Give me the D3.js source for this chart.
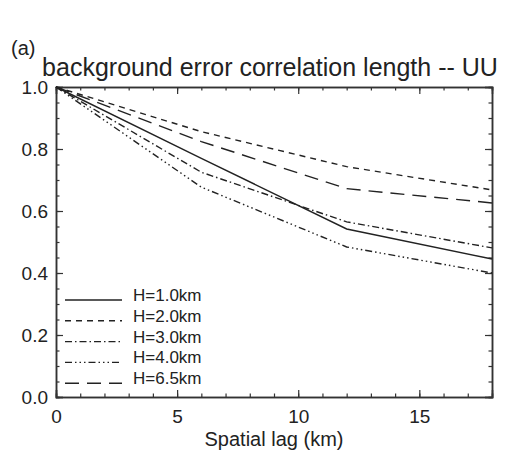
<!DOCTYPE html>
<html>
<head>
<meta charset="utf-8">
<script src="https://cdn.jsdelivr.net/npm/d3@7"></script>
<style>
  body { margin: 0; background: #fff; }
  text { font-family: "Liberation Sans", Arial, sans-serif; fill: #222; }
</style>
</head>
<body>
<div id="chart"></div>
<script>
// values
var lagKm = [0, 6, 12, 18];
var h10 = [1.0, 0.77, 0.542, 0.445];
var h20 = [1.0, 0.856, 0.743, 0.668];
var h30 = [1.0, 0.725, 0.565, 0.481];
var h40 = [1.0, 0.677, 0.484, 0.40];
var h65 = [1.0, 0.824, 0.672, 0.626];
var seriesNames = ["H=1.0km", "H=2.0km", "H=3.0km", "H=4.0km", "H=6.5km"];
var xMajor = [0, 5, 10, 15];
var yMajor = [0.0, 0.2, 0.4, 0.6, 0.8, 1.0];

var W = 512, H = 451;
var margin = {top: 87, right: 20, bottom: 54, left: 56},
    width = W - margin.left - margin.right,
    height = H - margin.top - margin.bottom;

var dashes = [null, "6,5", "7,3,1.5,3", "7,3,1.5,3,1.5,3,1.5,3", "14,8"];
var allSeries = [h10, h20, h30, h40, h65];

var svg = d3.select("#chart")
    .append("svg")
    .attr("width", W)
    .attr("height", H);

svg.append("text")
    .attr("x", 11)
    .attr("y", 55)
    .attr("font-size", 20)
    .text("(a)");

svg.append("text")
    .attr("x", 270)
    .attr("y", 76)
    .attr("text-anchor", "middle")
    .attr("font-size", 25)
    .text("background error correlation length -- UU");

var g = svg.append("g")
    .attr("transform", "translate(" + margin.left + "," + margin.top + ")");

var x = d3.scaleLinear().domain([0, 18]).range([0, width]);
var y = d3.scaleLinear().domain([0, 1]).range([height, 0]);

// frame axes, ticks pointing inward like IDL
function styleAxis(sel) {
    sel.select(".domain").attr("stroke", "#333").attr("stroke-width", 1.5);
    sel.selectAll(".tick line").attr("stroke", "#333").attr("stroke-width", 1.2);
}

var xMinor = d3.range(0, 19, 1);
var yMinor = d3.range(0, 1.001, 0.05);

// minor ticks
g.append("g").attr("transform", "translate(0," + height + ")")
    .call(d3.axisBottom(x).tickValues(xMinor).tickSize(-3.5).tickFormat(""))
    .call(styleAxis);
g.append("g")
    .call(d3.axisTop(x).tickValues(xMinor).tickSize(-3.5).tickFormat(""))
    .call(styleAxis);
g.append("g")
    .call(d3.axisLeft(y).tickValues(yMinor).tickSize(-3.5).tickFormat(""))
    .call(styleAxis);
g.append("g").attr("transform", "translate(" + width + ",0)")
    .call(d3.axisRight(y).tickValues(yMinor).tickSize(-3.5).tickFormat(""))
    .call(styleAxis);

// major ticks with labels
var xAx = g.append("g").attr("transform", "translate(0," + height + ")")
    .call(d3.axisBottom(x).tickValues(xMajor).tickSize(-7).tickPadding(13).tickFormat(d3.format("d")))
    .call(styleAxis);
xAx.selectAll("text").attr("font-size", 19).attr("fill", "#222");

g.append("g")
    .call(d3.axisTop(x).tickValues(xMajor).tickSize(-7).tickFormat(""))
    .call(styleAxis);

var yAx = g.append("g")
    .call(d3.axisLeft(y).tickValues(yMajor).tickSize(-7).tickPadding(8).tickFormat(d3.format(".1f")))
    .call(styleAxis);
yAx.selectAll("text").attr("font-size", 19).attr("fill", "#222");

g.append("g").attr("transform", "translate(" + width + ",0)")
    .call(d3.axisRight(y).tickValues(yMajor).tickSize(-7).tickFormat(""))
    .call(styleAxis);

svg.append("text")
    .attr("x", 274)
    .attr("y", 446)
    .attr("text-anchor", "middle")
    .attr("font-size", 20)
    .text("Spatial lag (km)");

// curves
var line = d3.line()
    .x(function (d, i) { return x(lagKm[i]); })
    .y(function (d) { return y(d); });

g.selectAll(".curve")
    .data(allSeries)
    .enter()
    .append("path")
    .attr("class", "curve")
    .attr("d", line)
    .attr("fill", "none")
    .attr("stroke", "#222")
    .attr("stroke-width", 1.4)
    .attr("stroke-dasharray", function (d, i) { return dashes[i]; });

// legend
var leg = svg.append("g").attr("transform", "translate(65,300)");
var item = leg.selectAll("g")
    .data(seriesNames)
    .enter()
    .append("g")
    .attr("transform", function (d, i) { return "translate(0," + (i * 20.8) + ")"; });

item.append("line")
    .attr("x1", 0).attr("x2", 57)
    .attr("stroke", "#222")
    .attr("stroke-width", 1.4)
    .attr("stroke-dasharray", function (d, i) { return dashes[i]; });

item.append("text")
    .attr("x", 68)
    .attr("y", 1)
    .attr("font-size", 17)
    .text(function (d) { return d; });
</script>
</body>
</html>
